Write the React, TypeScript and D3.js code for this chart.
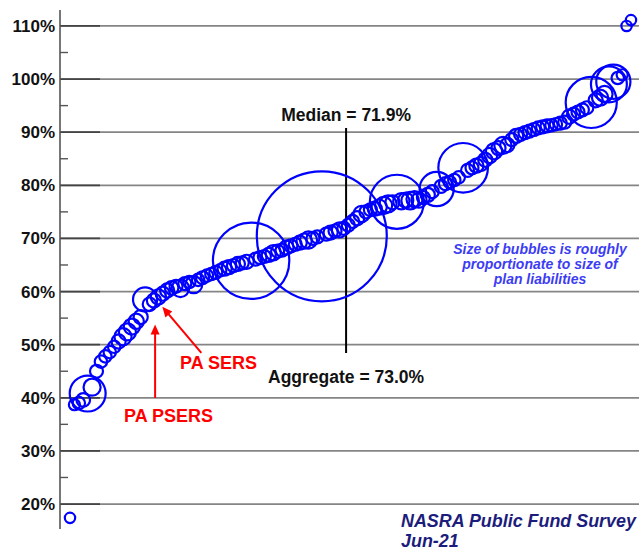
import React from "react";
import * as d3 from "d3";

// Funded ratio (%) of each plan, sorted by rank
const fundedRatio: number[] = [
  17.4, 38.7, 39.0, 39.6, 40.8, 42.0, 45.0, 46.8, 47.8, 48.6,
  49.6, 50.6, 51.5, 52.4, 53.4, 54.4, 55.2, 58.5, 57.6, 58.3,
  59.0, 59.6, 60.2, 60.7, 61.0, 60.6, 61.5, 61.8, 61.3, 62.2,
  62.6, 63.0, 63.3, 63.6, 64.0, 64.3, 64.6, 64.9, 65.2, 65.4,
  65.6, 65.8, 66.1, 66.4, 66.6, 66.9, 67.3, 67.6, 67.8, 68.3,
  68.6, 68.9, 69.2, 69.5, 69.7, 70.0, 70.3, 70.4, 70.8, 71.1,
  71.4, 71.6, 71.9, 72.5, 73.2, 73.8, 74.6, 75.0, 75.4, 75.6,
  75.9, 76.2, 76.5, 76.8, 76.9, 77.0, 77.2, 77.1, 77.4, 77.2,
  77.7, 78.2, 78.8, 79.3, 79.8, 80.3, 80.6, 81.0, 81.5, 83.3,
  82.8, 83.3, 83.7, 84.0, 84.8, 85.6, 86.4, 87.0, 87.5, 87.6,
  88.6, 89.3, 89.6, 89.9, 90.2, 90.5, 90.8, 91.0, 91.2, 91.3,
  91.5, 91.7, 91.9, 92.9, 93.4, 93.8, 94.2, 94.6, 95.6, 96.0,
  96.5, 97.2, 99.0, 99.5, 100.2, 100.8, 110.0, 111.1,
];

// Plan liabilities ($B), drives bubble size
const liabilities: number[] = [
  3.5, 4, 5, 6, 42, 9.5, 5.5, 5, 5, 5,
  5, 6.5, 9.5, 9.5, 8.5, 7.5, 6.5, 19, 6, 6.5,
  7.5, 6.5, 6.5, 6, 5.5, 10, 5.5, 5, 9.5, 5,
  5.5, 5, 5, 5.5, 5, 6.5, 6.5, 5.5, 6.5, 5.5,
  6.5, 190, 5.5, 5.5, 5.5, 6.5, 7.5, 5.5, 5.5, 6.5,
  5.5, 5.5, 6.5, 7.5, 9.5, 5.5, 5.5, 550, 5.5, 6.5,
  5.5, 7.5, 5.5, 5.5, 5.5, 6.5, 8.5, 5.5, 5.5, 6.5,
  7.5, 9.5, 9.5, 6.5, 95, 8.5, 7.5, 10, 8.5, 7.5,
  5.5, 6.5, 5.5, 38, 5.5, 5.5, 5, 5, 5, 80,
  5.5, 5.5, 6.5, 6.5, 6.5, 7.5, 8.5, 6.5, 9.5, 6.5,
  5.5, 6.5, 5.5, 5.5, 5.5, 5.5, 5.5, 5.5, 5.5, 5,
  5, 5.5, 5.5, 6.5, 5.5, 5.5, 5.5, 5.5, 85, 6.5,
  8.5, 8.5, 42, 38, 5, 4, 3.5, 3.5,
];

const yTicks: number[] = [20, 30, 40, 50, 60, 70, 80, 90, 100, 110];
const yMinorTicks: number[] = [25, 35, 45, 55, 65, 75, 85, 95, 105];

const medianValue = 71.9;
const aggregateValue = 73.0;
const medianRank = 62.5;
const psersRank = 17;
const sersRank = 20;

const noteLines: string[] = [
  "Size of bubbles is roughly",
  "proportionate to size of",
  "plan liabilities",
];
const sourceLines: string[] = ["NASRA Public Fund Survey", "Jun-21"];

const W = 639;
const H = 550;
const FONT = "Arial, 'Liberation Sans', Helvetica, sans-serif";

export default function App() {
  const n = fundedRatio.length;
  const x = d3.scaleLinear().domain([0, n - 1]).range([70, 631]);
  const y = d3.scaleLinear().domain([15.3, 113]).range([529, 10]);
  const r = d3.scaleSqrt().domain([0, 550]).range([0, 65]);
  const axisX = 60;

  const medX = x(medianRank);
  const psersX = x(psersRank) + 10;
  const psersTipY = y(fundedRatio[psersRank]) + 25;
  const sersTip: [number, number] = [x(sersRank) + 4, y(fundedRatio[sersRank]) + 10];
  const sersTail: [number, number] = [sersTip[0] + 39, sersTip[1] + 46];

  const arrowHead = (tx: number, ty: number, fx: number, fy: number) => {
    const ang = Math.atan2(ty - fy, tx - fx);
    const len = 10;
    const w = 4.5;
    const bx = tx - len * Math.cos(ang);
    const by = ty - len * Math.sin(ang);
    const px = -Math.sin(ang) * w;
    const py = Math.cos(ang) * w;
    return `M${tx},${ty}L${bx + px},${by + py}L${bx - px},${by - py}Z`;
  };

  return (
    <svg
      width={W}
      height={H}
      style={{ position: "absolute", left: 0, top: 0, background: "#fff" }}
      fontFamily={FONT}
    >
      {/* gridlines */}
      {yTicks.map((t) => (
        <g key={"g" + t}>
          <line x1={axisX} x2={W} y1={y(t)} y2={y(t)} stroke="#858585" strokeWidth={1.8} />
          <line x1={axisX} x2={100} y1={y(t)} y2={y(t)} stroke="#444" strokeWidth={1.8} />
          <text
            x={55}
            y={y(t) + 6}
            textAnchor="end"
            fontSize={17}
            fontWeight="bold"
            fill="#111"
          >
            {t}%
          </text>
        </g>
      ))}
      {yMinorTicks.map((t) => (
        <line key={"m" + t} x1={axisX} x2={axisX + 8} y1={y(t)} y2={y(t)} stroke="#555" strokeWidth={1.4} />
      ))}
      <line x1={axisX} x2={axisX} y1={y(113)} y2={y(15.3)} stroke="#555" strokeWidth={1.6} />

      {/* median line */}
      <line x1={medX} x2={medX} y1={128} y2={353} stroke="#000" strokeWidth={2} />
      <text x={medX} y={121} textAnchor="middle" fontSize={17.5} fontWeight="bold" fill="#111">
        Median = {medianValue.toFixed(1)}%
      </text>
      <text x={medX} y={383} textAnchor="middle" fontSize={17.5} fontWeight="bold" fill="#111">
        Aggregate = {aggregateValue.toFixed(1)}%
      </text>

      {/* bubbles */}
      {fundedRatio.map((v, i) => (
        <circle
          key={i}
          cx={x(i)}
          cy={y(v)}
          r={r(liabilities[i])}
          fill="none"
          stroke="#0000ff"
          strokeWidth={2.2}
        />
      ))}

      {/* annotations */}
      <line x1={psersX} x2={psersX} y1={398} y2={psersTipY + 8} stroke="#ff0000" strokeWidth={2} />
      <path d={arrowHead(psersX, psersTipY, psersX, 398)} fill="#ff0000" />
      <line
        x1={sersTail[0]}
        y1={sersTail[1]}
        x2={sersTip[0] + 6}
        y2={sersTip[1] + 7}
        stroke="#ff0000"
        strokeWidth={2}
      />
      <path d={arrowHead(sersTip[0], sersTip[1], sersTail[0], sersTail[1])} fill="#ff0000" />
      <text x={180} y={369} fontSize={18} fontWeight="bold" fill="#ff0000">
        PA SERS
      </text>
      <text x={124} y={422} fontSize={18} fontWeight="bold" fill="#ff0000">
        PA PSERS
      </text>

      {/* note */}
      {noteLines.map((s, i) => (
        <text
          key={s}
          x={540}
          y={254 + i * 15}
          textAnchor="middle"
          fontSize={14}
          fontWeight="bold"
          fontStyle="italic"
          fill="#3c3cf5"
        >
          {s}
        </text>
      ))}
      {sourceLines.map((s, i) => (
        <text
          key={s}
          x={401}
          y={527 + i * 20}
          fontSize={17.9}
          fontWeight="bold"
          fontStyle="italic"
          fill="#1c1c7c"
        >
          {s}
        </text>
      ))}
    </svg>
  );
}
